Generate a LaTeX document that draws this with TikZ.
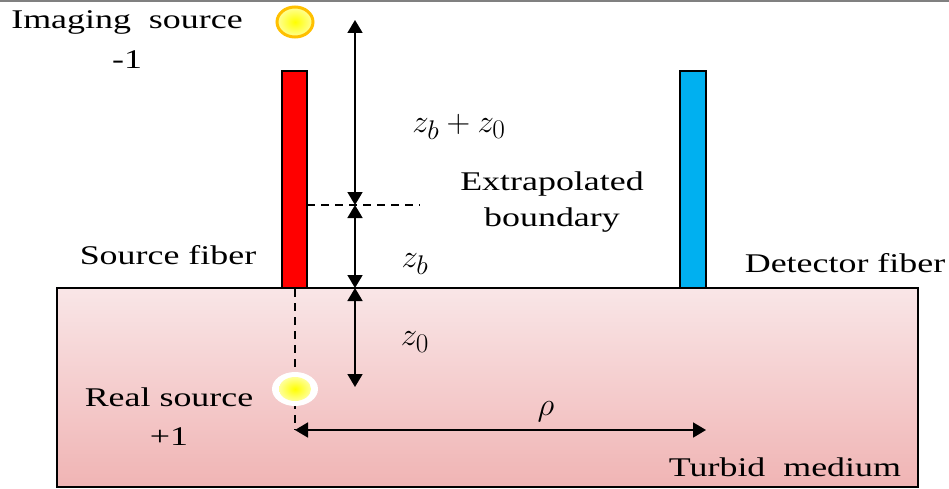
\documentclass[tikz,border=0pt]{standalone}
\usepackage{fontspec}
\setmainfont{Liberation Serif}
\usetikzlibrary{arrows.meta,shapes.geometric}
\definecolor{fibred}{HTML}{FF0000}
\definecolor{fibblue}{HTML}{00B0F0}
\definecolor{pinktop}{HTML}{F9E6E7}
\definecolor{pinkbot}{HTML}{F0B4B4}
\definecolor{srcorange}{HTML}{FFC000}
\definecolor{srcyellow}{HTML}{FFFF00}
\definecolor{srcpale}{HTML}{FFFF99}
\begin{document}
\begin{tikzpicture}[x=1pt,y=-1pt,
  lbl/.style={font=\rmfamily\fontsize{27}{30}\selectfont, xscale=1.33, inner sep=0pt},
  mlbl/.style={font=\rmfamily\fontsize{24.88}{28}\selectfont, xscale=1.32, yscale=1.3, inner sep=0pt},
  dimarrow/.style={line width=1.8pt, {Triangle[length=13pt,width=15pt]}-{Triangle[length=13pt,width=15pt]}},
  fiberbox/.style={draw=black, line width=2pt},
  guide/.style={line width=1.5pt, dash pattern=on 8pt off 6pt}]
\useasboundingbox (0,0) rectangle (949,489);
\draw[gray, line width=2pt] (0,1) -- (949,1);
% medium
\draw[black, line width=1.2pt, top color=pinktop, bottom color=pinkbot] (57,288) rectangle (918,487);
% fibers
\draw[fiberbox, fill=fibred] (282,71) rectangle (307,288);
\draw[fiberbox, fill=fibblue] (680,71) rectangle (706,288);
% coordinates
\coordinate (fibEdge) at (307,205);
\coordinate (guideEnd) at (420,205);
\coordinate (srcTop) at (295,289);
\coordinate (srcBot) at (295,430);
\coordinate (a1) at (355,20);
\coordinate (a2) at (355,205);
\coordinate (a3) at (355,288);
\coordinate (a4) at (355,387);
\coordinate (r1) at (295,430);
\coordinate (r2) at (706,430);
% guides
\draw[guide] (fibEdge) -- (guideEnd);
\draw[guide] (srcTop) -- (srcBot);
% dimension arrows
\draw[dimarrow] (a1) -- (a2);
\draw[dimarrow] (a2) -- (a3);
\draw[dimarrow] (a3) -- (a4);
\draw[dimarrow] (r1) -- (r2);
% sources
\node[ellipse, draw=srcorange, line width=3pt, minimum width=36pt, minimum height=30pt, inner sep=0pt, shading=radial, inner color=srcyellow, outer color=srcpale] (imgsrc) at (295,22) {};
\node[ellipse, fill=white, minimum width=46pt, minimum height=34pt, inner sep=0pt] (realglow) at (295,389) {};
\node[ellipse, minimum width=32pt, minimum height=24pt, inner sep=0pt, shading=radial, inner color=srcyellow, outer color=srcpale] (realsrc) at (295,389) {};
% labels
\node[lbl] (limg) at (127,22) {Imaging~ source};
\node[lbl] (lm1) at (127,60) {-1};
\node[lbl] (lsf) at (168,255) {Source fiber};
\node[lbl] (ldf) at (845,263) {Detector fiber};
\node[lbl] (lex) at (552,184) {Extrapolated};
\node[lbl] (lbd) at (552,220) {boundary};
\node[mlbl] (lzz) at (459,127) {$z_b+z_0$};
\node[mlbl] (lzb) at (415,264) {$z_b$};
\node[mlbl] (lz0) at (415,342) {$z_0$};
\node[lbl] (lrs) at (169,397) {Real source};
\node[lbl] (lp1) at (169,437) {+1};
\node[mlbl] (lrho) at (546,412) {$\rho$};
\node[lbl] (ltm) at (785,467) {Turbid~ medium};
\end{tikzpicture}
\end{document}
